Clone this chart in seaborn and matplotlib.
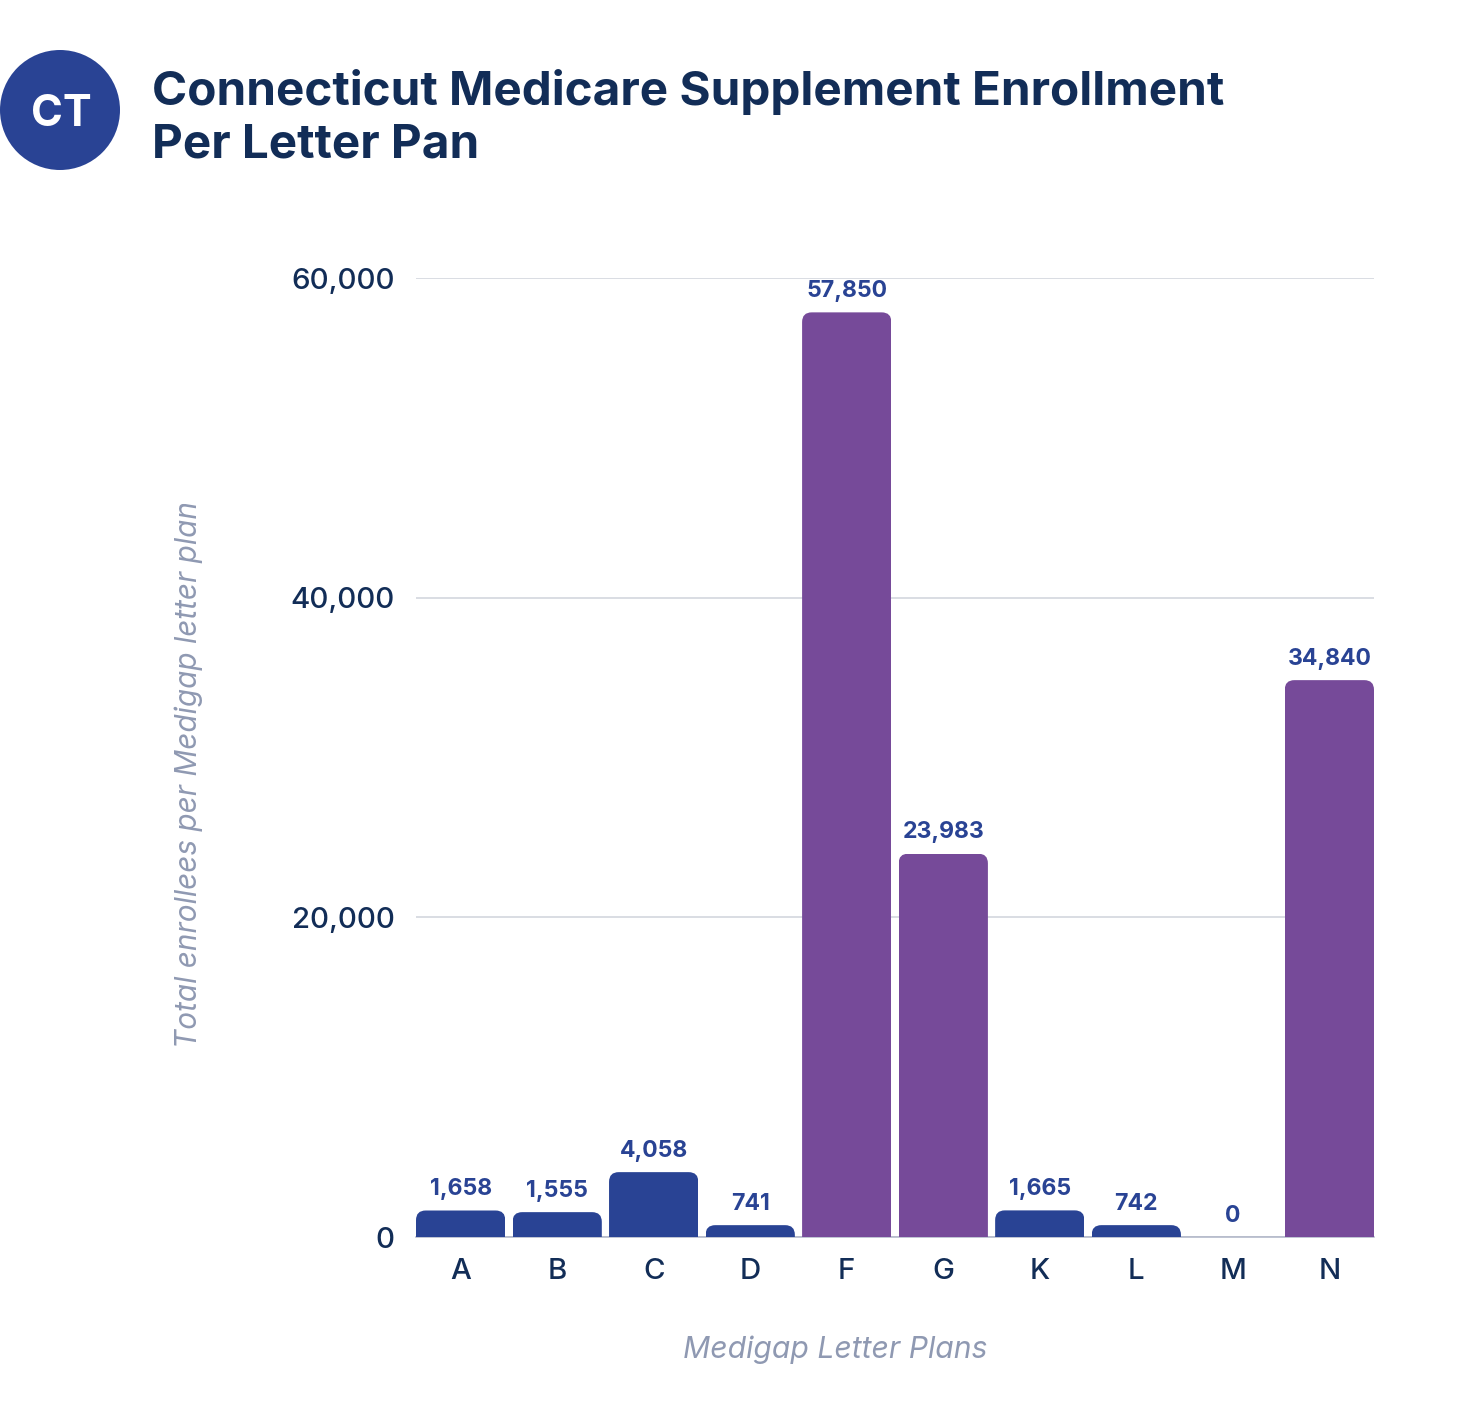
import matplotlib
matplotlib.use("Agg")
import matplotlib.pyplot as plt
from matplotlib.patches import Circle, FancyBboxPatch
from matplotlib.ticker import FuncFormatter
import seaborn as sns

plans = ["A", "B", "C", "D", "F", "G", "K", "L", "M", "N"]
enrollees = [1658, 1555, 4058, 741, 57850, 23983, 1665, 742, 0, 34840]
highlight = ["F", "G", "N"]
yticks = [0, 20000, 40000, 60000]

BLUE = "#294394"
PURPLE = "#764A99"
NAVY = "#122D57"
MUTED = "#8F99B2"
GRID = "#CFD3DB"
FONT = "Inter"

W, H = 1472, 1416
sns.set_theme(style="white")
plt.rcParams["font.family"] = [FONT, "DejaVu Sans"]

fig = plt.figure(figsize=(W / 100, H / 100), dpi=100, facecolor="white")
L, R, T, B = 416, 1374, 278, 1237
ax = fig.add_axes([L / W, 1 - B / H, (R - L) / W, (B - T) / H])

palette = {p: (PURPLE if p in highlight else BLUE) for p in plans}
sns.barplot(x=plans, y=enrollees, hue=plans, palette=palette, legend=False,
            saturation=1, width=0.925, ax=ax, zorder=3)
ax.set_xlim(-0.4625, 9.4625)
ax.set_ylim(0, 60000)
ax.set_yticks(yticks)
ax.yaxis.set_major_formatter(FuncFormatter(lambda v, _: f"{v:,.0f}"))
ax.grid(axis="y", color=GRID, lw=1.1, zorder=0)
ax.grid(axis="x", visible=False)
ax.set_axisbelow(True)
for s in ["top", "left", "right"]:
    ax.spines[s].set_visible(False)
ax.spines["bottom"].set_color("#AEB4C6")
ax.spines["bottom"].set_linewidth(1.1)
ax.tick_params(axis="both", length=0, labelsize=21.2, labelcolor=NAVY)
ax.tick_params(axis="y", pad=15.5)
ax.tick_params(axis="x", pad=15)
for t in ax.get_yticklabels() + ax.get_xticklabels():
    t.set_fontweight("medium")

ax.set_xlabel("")
ax.set_ylabel("")

# Rounded top corners through clip paths on the library's bars
step_px = (R - L) / (9 + 2 * 0.4625)
y_per_px = 60000 / (B - T)
for container in ax.containers:
    for bar in container:
        bar.set_linewidth(0)
        x, y, w, h = bar.get_bbox().bounds
        if h <= 0:
            continue
        clip = FancyBboxPatch((x, y - 3000), w, h + 3000,
                              boxstyle="round,pad=0,rounding_size=0.1",
                              mutation_aspect=y_per_px * step_px,
                              transform=ax.transData)
        bar.set_clip_path(clip)
    ax.bar_label(container, fmt="{:,.0f}", padding=7.5, fontsize=16.6,
                 fontweight="bold", color=BLUE)

# Header badge and text
badge = Circle((60, H - 110), 60, transform=None, facecolor=BLUE, linewidth=0, zorder=5)
fig.add_artist(badge)
fig.text(61 / W, 1 - 126 / H, "CT", ha="center", va="baseline", color="white",
         fontsize=31, fontweight="bold", zorder=6)
fig.text(152 / W, 1 - 105 / H, "Connecticut Medicare Supplement Enrollment",
         ha="left", va="baseline", color=NAVY, fontsize=34.3, fontweight="bold")
fig.text(152 / W, 1 - 157 / H, "Per Letter Pan",
         ha="left", va="baseline", color=NAVY, fontsize=34.3, fontweight="bold")

fig.text(189 / W, 1 - 774 / H, "Total enrollees per Medigap letter plan",
         rotation=90, ha="center", va="center", color=MUTED, fontsize=21.4,
         fontstyle="italic")
fig.text(835 / W, 1 - 1350 / H, "Medigap Letter Plans", ha="center", va="center",
         color=MUTED, fontsize=21.7, fontstyle="italic")

fig.savefig("out.png", dpi=100, facecolor="white")
